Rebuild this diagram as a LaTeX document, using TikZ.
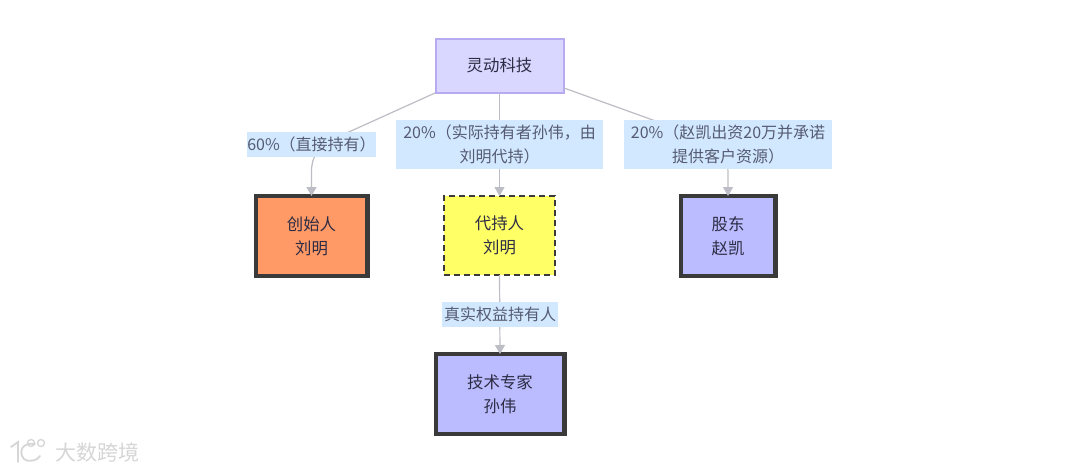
\documentclass[tikz,border=0pt]{standalone}
\usepackage{fontspec}
\setmainfont{Noto Sans CJK SC}
\usetikzlibrary{arrows.meta}
\definecolor{edgecol}{HTML}{BDBDC6}
\definecolor{lblfill}{HTML}{D2E8FF}
\definecolor{lbltext}{HTML}{555B72}
\definecolor{nodetext}{HTML}{2C2C44}
\definecolor{darkline}{HTML}{3A3A3A}
\tikzset{
  x=1pt,y=-1pt,
  base/.style={align=center,inner sep=0pt,outer sep=0pt,text=nodetext,font=\fontsize{16.4}{24}\selectfont},
  rootbox/.style={base,draw={rgb,255:red,184;green,170;blue,240},line width=2pt,fill={rgb,255:red,217;green,214;blue,255}},
  orangebox/.style={base,draw=darkline,line width=4.5pt,fill={rgb,255:red,255;green,153;blue,102}},
  yellowbox/.style={base,draw=darkline,line width=2.5pt,dash pattern=on 6pt off 4pt,fill={rgb,255:red,255;green,255;blue,102}},
  bluebox/.style={base,draw=darkline,line width=4.5pt,fill={rgb,255:red,187;green,187;blue,255}},
  edgelabel/.style={base,text=lbltext,fill=lblfill,font=\fontsize{16}{24}\selectfont},
  edge/.style={draw=edgecol,line width=1.2pt,-{Triangle[length=9pt,width=10pt]}},
  wm/.style={inner sep=0pt,outer sep=0pt,text=black!16,font=\fontsize{21}{24}\selectfont}
}
\begin{document}
\begin{tikzpicture}
\useasboundingbox[fill=white] (0,0) rectangle (1080,472);
% nodes
\node[rootbox,minimum width=128pt,minimum height=54pt] (root) at (499.5,65.5) {灵动科技};
\node[orangebox,minimum width=111.5pt,minimum height=80pt] (founder) at (311.5,236) {创始人\\刘明};
\node[yellowbox,minimum width=111pt,minimum height=79pt] (nominee) at (499.5,235.5) {代持人\\刘明};
\node[bluebox,minimum width=94.5pt,minimum height=80pt] (holder) at (728,236) {股东\\赵凯};
\node[bluebox,minimum width=128.5pt,minimum height=80pt] (expert) at (500,394) {技术专家\\孙伟};
% connector way points
\coordinate (a1) at (435,93);
\coordinate (a2) at (340,136);
\coordinate (c1) at (564,88);
\coordinate (c2) at (650,119);
% connectors
\draw[edge] (a1) -- (a2) .. controls (318,148) and (311.5,155) .. (311.5,172) -- (founder.north);
\draw[edge] (root.south -| nominee.north) -- (nominee.north);
\draw[edge] (c1) -- (c2) .. controls (705,139) and (728,150) .. (728,172) -- (holder.north);
\draw[edge] (nominee.south) -- (expert.north);
% labels
\node[edgelabel,minimum width=127pt,minimum height=25pt] (la) at (311.5,144.5) {60\%（直接持有）};
\node[edgelabel,minimum width=207pt,minimum height=49pt] (lb) at (499.5,144.5) {20\%（实际持有者孙伟，由\\刘明代持）};
\node[edgelabel,minimum width=208pt,minimum height=49pt] (lc) at (728,144.5) {20\%（赵凯出资20万并承诺\\提供客户资源）};
\node[edgelabel,minimum width=116pt,minimum height=25pt] (ld) at (500,314.5) {真实权益持有人};
% watermark
\node[wm] (wmtext) at (97.5,452) {大数跨境};
\draw[black!16,line width=1.8pt,line cap=round] (11,447) -- (18,442) -- (18,462) (35,444) .. controls (22,442) and (18,452) .. (24,459) .. controls (30,463) and (38,460) .. (40,456);
\draw[black!16,line width=1.3pt] (31,443) circle (3.5pt) (41,443) circle (3.5pt);
\end{tikzpicture}
\end{document}
